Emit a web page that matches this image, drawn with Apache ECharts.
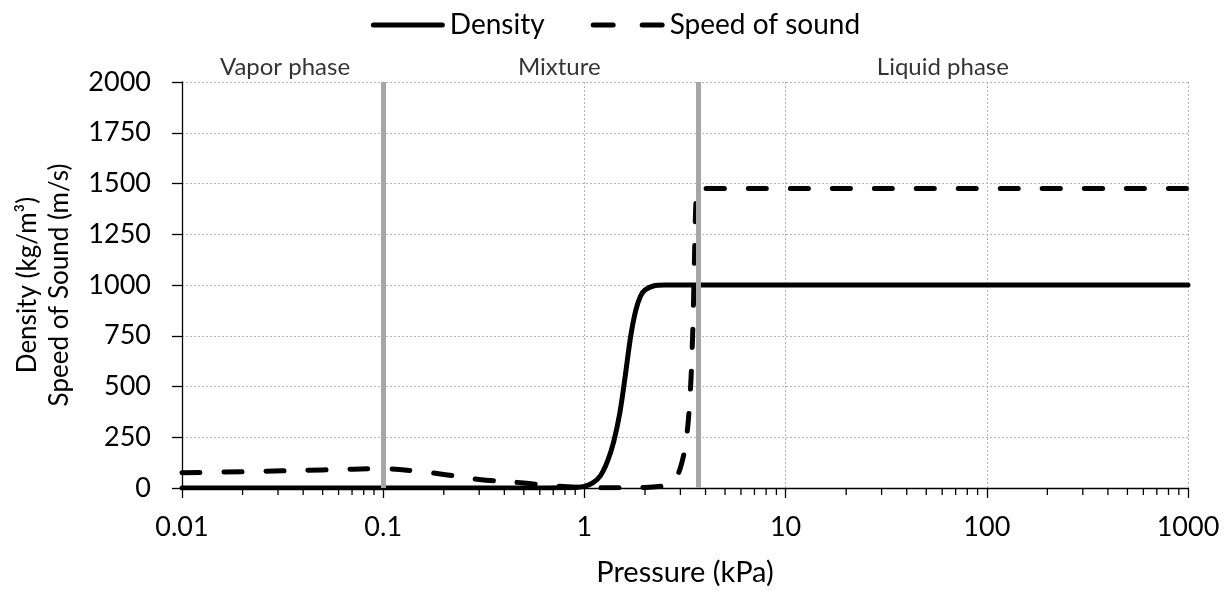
<!DOCTYPE html>
<html>
<head>
<meta charset="utf-8">
<script src="https://cdn.jsdelivr.net/npm/echarts@6/dist/echarts.min.js"></script>
<style>
html,body{margin:0;padding:0;background:#fff;}
#chart{width:1231px;height:594px;}
</style>
</head>
<body>
<div id="chart"></div>
<script>
// ---- data (pressure in kPa) ----
var densityP =   [0.01, 0.1, 0.5, 0.8, 0.9, 1.0, 1.1, 1.2, 1.3, 1.4, 1.5, 1.6, 1.7, 1.8, 1.9, 2.0, 2.2, 2.5, 3.0, 10, 100, 1000];
var densityV =   [0,    0,   0,   1,   3,   8,   25,  60,  130, 230, 370, 560, 750, 875, 945, 975, 995, 1000, 1000, 1000, 1000, 1000];

var soundP = [0.01, 0.02, 0.05, 0.1, 0.15, 0.2, 0.3, 0.5, 0.7, 1.0, 1.5, 2.0, 2.5, 2.8, 3.0, 3.2, 3.35, 3.45, 3.52, 3.58, 3.65, 5, 10, 100, 1000];
var soundV = [75,   80,   89,   95,  82,   67,  42,  25,  10,  3,   1,   3,   12,  40,  100, 230, 450,  750,  1100, 1400, 1475, 1475, 1475, 1475, 1475];

var phaseBoundaries = [0.097, 3.68];
var regionNames = ['Vapor phase', 'Mixture', 'Liquid phase'];
var regionLabelP = [0.0325, 0.75, 60.5];

var xTickLabels = ['0.01', '0.1', '1', '10', '100', '1000'];
var yTicks = [0, 250, 500, 750, 1000, 1250, 1500, 1750, 2000];

var minorTickP = [];
[0.01, 0.1, 1, 10, 100].forEach(function (d) {
  for (var k = 2; k <= 9; k++) minorTickP.push(+(d * k).toPrecision(3));
});

function pairs(xs, ys) { return xs.map(function (x, i) { return [x, ys[i]]; }); }

var FONT = 'Lato';
var SOLID_ICON = 'path://M2.5,0H71.5A2.5,2.5,0,0,1,71.5,5H2.5A2.5,2.5,0,0,1,2.5,0Z';
var DASH_ICON = 'path://M2.5,0H22.5A2.5,2.5,0,0,1,22.5,5H2.5A2.5,2.5,0,0,1,2.5,0Z M51.5,0H71.5A2.5,2.5,0,0,1,71.5,5H51.5A2.5,2.5,0,0,1,51.5,0Z';

var chart = echarts.init(document.getElementById('chart'), null, {renderer: 'canvas'});
chart.setOption({
  animation: false,
  backgroundColor: '#fff',
  textStyle: {fontFamily: FONT, color: '#000'},
  legend: {
    data: [
      {name: 'Density', icon: SOLID_ICON},
      {name: 'Speed of sound', icon: DASH_ICON}
    ],
    top: 6,
    left: 'center',
    itemWidth: 74,
    itemHeight: 5,
    itemGap: 46,
    itemStyle: {color: '#000', borderWidth: 0},
    textStyle: {fontFamily: FONT, fontSize: 28, color: '#000'}
  },
  grid: {left: 182, right: 43, top: 82, bottom: 106, containLabel: false},
  xAxis: {
    type: 'log',
    logBase: 10,
    min: 0.01,
    max: 1000,
    name: 'Pressure (kPa)',
    nameLocation: 'middle',
    nameGap: 70,
    nameTextStyle: {fontFamily: FONT, fontSize: 29, color: '#000'},
    axisLine: {lineStyle: {color: '#000', width: 1.3}},
    axisTick: {show: true, inside: false, length: 10, lineStyle: {color: '#000', width: 1.3}},
    axisLabel: {
      margin: 26, fontFamily: FONT, fontSize: 27, color: '#000',
      formatter: function (v) {
        var i = Math.round(Math.log10(v)) + 2;
        return xTickLabels[i] !== undefined ? xTickLabels[i] : '';
      }
    },
    splitLine: {show: true, lineStyle: {color: '#b4b4b4', width: 1, type: [2, 2]}},
    minorTick: {show: false},
    minorSplitLine: {show: false}
  },
  yAxis: {
    type: 'value',
    min: yTicks[0],
    max: yTicks[yTicks.length - 1],
    interval: 250,
    name: 'Density (kg/m\u00B3)\nSpeed of Sound (m/s)',
    nameLocation: 'middle',
    nameGap: 106,
    nameTextStyle: {fontFamily: FONT, fontSize: 26, color: '#000', lineHeight: 32},
    axisLine: {show: true, lineStyle: {color: '#000', width: 1.3}},
    axisTick: {show: true, inside: false, length: 10, lineStyle: {color: '#000', width: 1.3}},
    axisLabel: {
      margin: 31, fontFamily: FONT, fontSize: 27, color: '#000',
      formatter: function (v) { return String(v); }
    },
    splitLine: {show: true, lineStyle: {color: '#b4b4b4', width: 1, type: [2, 2]}}
  },
  series: [
    {
      name: 'Density',
      type: 'line',
      data: pairs(densityP, densityV),
      symbol: 'none',
      showSymbol: false,
      smooth: 0.35,
      lineStyle: {color: '#000', width: 5, cap: 'round', join: 'round'},
      itemStyle: {color: '#000'},
      z: 3
    },
    {
      name: 'Speed of sound',
      type: 'line',
      data: pairs(soundP, soundV),
      symbol: 'none',
      showSymbol: false,
      smooth: 0.35,
      lineStyle: {color: '#000', width: 5, type: [18, 24], cap: 'round', join: 'round'},
      itemStyle: {color: '#000'},
      z: 3
    },
    {
      name: 'boundaries',
      type: 'line',
      data: [],
      z: 5,
      silent: true,
      markLine: {
        silent: true,
        symbol: ['none', 'none'],
        label: {show: false},
        lineStyle: {color: '#a6a6a6', width: 5, type: 'solid'},
        data: phaseBoundaries.map(function (p) { return {xAxis: p}; })
      }
    },
    {
      name: 'regions',
      type: 'scatter',
      symbolSize: 0,
      silent: true,
      data: regionLabelP.map(function (p, i) { return {value: [p, 2000], name: regionNames[i]}; }),
      label: {
        show: true, position: 'top', distance: 3,
        formatter: '{b}', fontFamily: FONT, fontSize: 24, color: '#000'
      },
      z: 6
    },
    {
      name: 'minorTicks',
      type: 'custom',
      silent: true,
      clip: false,
      data: minorTickP.map(function (p) { return [p, 0]; }),
      renderItem: function (params, api) {
        var pt = api.coord([api.value(0), 0]);
        return {
          type: 'line',
          shape: {x1: pt[0], y1: pt[1], x2: pt[0], y2: pt[1] + 7},
          style: {stroke: '#000', lineWidth: 1.3}
        };
      },
      z: 2
    }
  ]
});
</script>
</body>
</html>
